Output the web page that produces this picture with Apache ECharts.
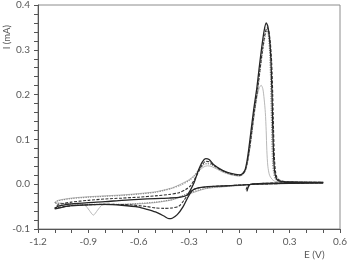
<!DOCTYPE html>
<html><head><meta charset="utf-8">
<script src="https://cdn.jsdelivr.net/npm/echarts@6/dist/echarts.min.js"></script>
<style>html,body{margin:0;padding:0;background:#fff}#c{width:350px;height:261px}</style>
</head><body><div id="c"></div>
<script>
// Potential (V) / current (mA) pairs for each voltammogram, in scan order
const curveA = [ // solid black
 [0.045,-0.016],[0.055,-0.005],[0.07,0.0],[0.15,0.002],[0.3,0.003],[0.5,0.003],
 [0.3,0.002],[0.1,0.0],[0.0,-0.002],[-0.1,-0.004],[-0.2,-0.006],[-0.25,-0.009],[-0.28,-0.014],[-0.305,-0.028],[-0.335,-0.05],[-0.37,-0.068],[-0.4,-0.076],[-0.42,-0.077],[-0.45,-0.071],[-0.5,-0.062],[-0.55,-0.056],[-0.6,-0.051],[-0.7,-0.047],[-0.8,-0.045],[-0.9,-0.046],[-1.0,-0.048],[-1.05,-0.051],[-1.1,-0.055],
 [-1.08,-0.049],[-1.0,-0.044],[-0.9,-0.041],[-0.8,-0.039],[-0.7,-0.036],[-0.6,-0.034],[-0.5,-0.032],[-0.42,-0.031],[-0.35,-0.029],[-0.31,-0.024],[-0.29,-0.012],[-0.27,0.003],[-0.245,0.03],[-0.22,0.05],[-0.2,0.057],[-0.18,0.055],[-0.15,0.043],[-0.1,0.031],[-0.05,0.024],[0.0,0.021],[0.02,0.024],[0.035,0.033],[0.045,0.05],[0.055,0.075],[0.07,0.12],[0.085,0.165],[0.105,0.217],[0.12,0.265],[0.135,0.31],[0.148,0.343],[0.16,0.36],[0.17,0.352],[0.18,0.325],[0.188,0.28],[0.194,0.21],[0.199,0.13],[0.204,0.065],[0.21,0.03],[0.22,0.013],[0.24,0.007],[0.3,0.005],[0.5,0.004]
];
const curveB = [ // dashed black
 [0.04,-0.012],[0.05,-0.004],[0.07,0.0],[0.15,0.002],[0.3,0.003],[0.5,0.003],
 [0.3,0.002],[0.1,0.0],[0.0,-0.002],[-0.1,-0.004],[-0.2,-0.006],[-0.26,-0.01],[-0.3,-0.02],[-0.33,-0.036],[-0.36,-0.049],[-0.4,-0.053],[-0.45,-0.054],[-0.5,-0.053],[-0.55,-0.05],[-0.65,-0.046],[-0.8,-0.045],[-0.9,-0.046],[-1.0,-0.048],[-1.05,-0.05],[-1.1,-0.053],
 [-1.08,-0.046],[-1.0,-0.04],[-0.9,-0.036],[-0.8,-0.033],[-0.7,-0.031],[-0.6,-0.029],[-0.5,-0.026],[-0.42,-0.023],[-0.36,-0.019],[-0.32,-0.012],[-0.29,-0.003],[-0.265,0.012],[-0.24,0.03],[-0.22,0.044],[-0.2,0.051],[-0.18,0.05],[-0.15,0.041],[-0.1,0.03],[-0.05,0.023],[0.0,0.02],[0.02,0.023],[0.035,0.031],[0.048,0.05],[0.06,0.077],[0.075,0.12],[0.09,0.165],[0.11,0.215],[0.125,0.262],[0.14,0.305],[0.153,0.335],[0.165,0.35],[0.175,0.343],[0.185,0.315],[0.193,0.27],[0.199,0.2],[0.204,0.12],[0.209,0.06],[0.215,0.03],[0.225,0.014],[0.245,0.008],[0.3,0.005],[0.5,0.004]
];
const curveC = [ // dotted grey
 [0.3,0.003],[0.5,0.003],
 [0.3,0.002],[0.1,0.0],[0.0,-0.002],[-0.1,-0.005],[-0.2,-0.009],[-0.3,-0.02],[-0.4,-0.034],[-0.5,-0.04],[-0.6,-0.043],[-0.7,-0.045],[-0.8,-0.045],[-0.9,-0.045],[-1.0,-0.044],[-1.05,-0.043],[-1.1,-0.042],
 [-1.08,-0.037],[-1.0,-0.032],[-0.9,-0.029],[-0.8,-0.027],[-0.7,-0.025],[-0.6,-0.022],[-0.5,-0.018],[-0.45,-0.014],[-0.4,-0.009],[-0.35,-0.002],[-0.3,0.008],[-0.27,0.018],[-0.24,0.033],[-0.21,0.044],[-0.19,0.046],[-0.17,0.044],[-0.13,0.036],[-0.1,0.029],[-0.05,0.022],[0.0,0.019],[0.02,0.022],[0.035,0.03],[0.048,0.048],[0.06,0.075],[0.075,0.118],[0.09,0.162],[0.11,0.212],[0.125,0.258],[0.14,0.3],[0.153,0.33],[0.163,0.343],[0.172,0.335],[0.18,0.3],[0.186,0.24],[0.19,0.17],[0.194,0.1],[0.198,0.05],[0.205,0.025],[0.215,0.012],[0.235,0.007],[0.3,0.005],[0.5,0.004]
];
const curveD = [ // thin light grey
 [0.3,0.003],[0.5,0.003],
 [0.3,0.002],[0.1,0.0],[0.0,-0.003],[-0.1,-0.006],[-0.2,-0.01],[-0.3,-0.022],[-0.4,-0.035],[-0.5,-0.041],[-0.6,-0.044],[-0.7,-0.045],[-0.8,-0.046],[-0.82,-0.047],[-0.845,-0.058],[-0.87,-0.069],[-0.895,-0.058],[-0.92,-0.047],[-0.95,-0.046],[-1.0,-0.045],[-1.05,-0.043],[-1.1,-0.041],
 [-1.08,-0.036],[-1.0,-0.031],[-0.9,-0.028],[-0.8,-0.026],[-0.7,-0.024],[-0.6,-0.021],[-0.5,-0.017],[-0.45,-0.013],[-0.4,-0.008],[-0.35,0.0],[-0.3,0.01],[-0.27,0.019],[-0.24,0.03],[-0.21,0.039],[-0.19,0.041],[-0.17,0.04],[-0.13,0.033],[-0.1,0.027],[-0.05,0.021],[0.0,0.018],[0.02,0.021],[0.035,0.03],[0.048,0.047],[0.06,0.073],[0.075,0.115],[0.09,0.158],[0.105,0.195],[0.118,0.214],[0.13,0.221],[0.14,0.213],[0.148,0.19],[0.155,0.16],[0.16,0.12],[0.164,0.075],[0.17,0.04],[0.18,0.02],[0.195,0.011],[0.215,0.006],[0.3,0.005],[0.5,0.004]
];
const xTicks = [-1.2,-0.9,-0.6,-0.3,0,0.3,0.6];
const yTicks = [-0.1,0.0,0.1,0.2,0.3,0.4];

const chart = echarts.init(document.getElementById('c'), null, {renderer:'canvas'});
const font = 'Lato, "Open Sans", sans-serif';
const mk = (d, color, width, type) => ({
  type:'line', data:d, showSymbol:false, symbol:'none', smooth:0.25, animation:false,
  lineStyle:{color:color, width:width, type:type}
});
chart.setOption({
  animation:false,
  grid:{left:38, right:10, top:5, bottom:32, show:true, borderColor:'#8c8c8c', borderWidth:1},
  xAxis:{type:'value', min:xTicks[0], max:xTicks[xTicks.length-1], interval:0.3,
    axisLine:{show:true, onZero:false, lineStyle:{color:'#555', width:1}},
    axisTick:{show:true, inside:false, length:4, lineStyle:{color:'#555'}},
    minorTick:{show:true, splitNumber:3, length:4, lineStyle:{color:'#555'}},
    splitLine:{show:false},
    axisLabel:{color:'#595959', fontSize:10, fontFamily:font, margin:8,
      formatter:v=>{const r=Math.round(v*10)/10; return r===0?'0':r.toFixed(1);}}
  },
  yAxis:{type:'value', min:yTicks[0], max:yTicks[yTicks.length-1], interval:0.1,
    axisLine:{show:true, onZero:false, lineStyle:{color:'#555', width:1}},
    axisTick:{show:true, inside:false, length:4, lineStyle:{color:'#555'}},
    minorTick:{show:true, splitNumber:5, length:4, lineStyle:{color:'#555'}},
    splitLine:{show:false},
    axisLabel:{color:'#595959', fontSize:10, fontFamily:font, margin:8,
      formatter:v=>(Math.round(v*10)/10).toFixed(1)}
  },
  graphic:[
    {type:'text', left:2, top:25, rotation:Math.PI/2, style:{text:'I (mA)', fill:'#595959', font:'9.5px '+font}},
    {type:'text', left:304, top:250, style:{text:'E (V)', fill:'#595959', font:'10px '+font}}
  ],
  series:[
    mk(curveD,'#b0b0b0',0.9,'solid'),
    mk(curveC,'#8a8a8a',1.2,'dotted'),
    mk(curveB,'#333',1.1,[3,1.5]),
    mk(curveA,'#262626',1.3,'solid')
  ]
});
</script></body></html>
